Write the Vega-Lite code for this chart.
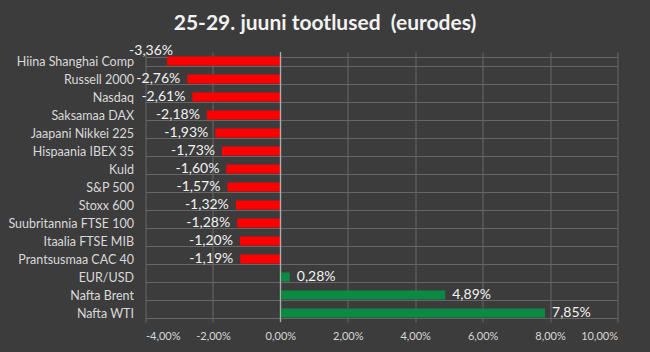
{
  "$schema": "https://vega.github.io/schema/vega-lite/v6.json",
  "width": 472,
  "height": 270,
  "autosize": {"type": "none"},
  "padding": {"left": 145.5, "top": 52, "right": 32.5, "bottom": 30},
  "background": "#3c3c3c",
  "title": {
    "text": "25-29. juuni tootlused \u00a0(eurodes)",
    "font": "Lato",
    "fontSize": 21,
    "fontWeight": "bold",
    "color": "#f2f2f2",
    "anchor": "middle",
    "frame": "group",
    "dx": -56.5,
    "baseline": "alphabetic",
    "offset": -7
  },
  "config": {
    "view": {"stroke": null},
    "locale": {
      "number": {"decimal": ",", "thousands": ".", "grouping": [3], "currency": ["", " €"], "minus": "-", "percent": "%"}
    }
  },
  "data": {
    "values": [
      {"c": "Hiina Shanghai Comp", "v": -0.0336},
      {"c": "Russell 2000", "v": -0.0276},
      {"c": "Nasdaq", "v": -0.0261},
      {"c": "Saksamaa DAX", "v": -0.0218},
      {"c": "Jaapani Nikkei 225", "v": -0.0193},
      {"c": "Hispaania IBEX 35", "v": -0.0173},
      {"c": "Kuld", "v": -0.016},
      {"c": "S&P 500", "v": -0.0157},
      {"c": "Stoxx 600", "v": -0.0132},
      {"c": "Suubritannia FTSE 100", "v": -0.0128},
      {"c": "Itaalia FTSE MIB", "v": -0.012},
      {"c": "Prantsusmaa CAC 40", "v": -0.0119},
      {"c": "EUR/USD", "v": 0.0028},
      {"c": "Nafta Brent", "v": 0.0489},
      {"c": "Nafta WTI", "v": 0.0785}
    ]
  },
  "layer": [
    {
      "mark": {"type": "bar"},
      "encoding": {
        "x": {
          "field": "v", "type": "quantitative",
          "scale": {"domain": [-0.04, 0.1], "nice": false, "zero": false},
          "axis": {
            "title": null, "format": ".2%",
            "values": [-0.04, -0.02, 0, 0.02, 0.04, 0.06, 0.08, 0.1],
            "grid": true, "gridColor": "#666666", "gridWidth": 1,
            "domain": false, "ticks": false,
            "labelColor": "#d9d9d9", "labelFont": "Lato", "labelFontSize": 11,
            "labelPadding": 8
          }
        },
        "y": {
          "field": "c", "type": "nominal", "sort": null,
          "scale": {"paddingInner": 0.5, "paddingOuter": 0.25},
          "axis": {
            "title": null, "domain": false, "ticks": false,
            "grid": true, "tickBand": "extent", "gridColor": "#666666", "gridWidth": 1,
            "labelColor": "#d9d9d9", "labelFont": "Lato", "labelFontSize": 12.5,
            "labelPadding": 12, "labelLimit": 200
          }
        },
        "color": {
          "condition": {"test": "datum.v < 0", "value": "#ff0000"},
          "value": "#0a8a42"
        }
      }
    },
    {
      "data": {"values": [{}]},
      "mark": {"type": "rule", "color": "#bfbfbf", "strokeWidth": 1},
      "encoding": {"x": {"datum": 0, "type": "quantitative"}}
    },
    {
      "transform": [{"filter": "datum.v < 0 && datum.c != 'Hiina Shanghai Comp'"}],
      "mark": {"type": "text", "align": "right", "dx": -7, "font": "Lato", "fontSize": 14, "color": "#f2f2f2"},
      "encoding": {
        "x": {"field": "v", "type": "quantitative"},
        "y": {"field": "c", "type": "nominal", "sort": null},
        "text": {"field": "v", "type": "quantitative", "format": ".2%"}
      }
    },
    {
      "transform": [{"filter": "datum.v > 0"}],
      "mark": {"type": "text", "align": "left", "dx": 7, "font": "Lato", "fontSize": 14, "color": "#f2f2f2"},
      "encoding": {
        "x": {"field": "v", "type": "quantitative"},
        "y": {"field": "c", "type": "nominal", "sort": null},
        "text": {"field": "v", "type": "quantitative", "format": ".2%"}
      }
    },
    {
      "transform": [{"filter": "datum.c == 'Hiina Shanghai Comp'"}],
      "mark": {"type": "text", "align": "center", "dx": -16, "dy": -10, "font": "Lato", "fontSize": 14, "color": "#f2f2f2"},
      "encoding": {
        "x": {"field": "v", "type": "quantitative"},
        "y": {"field": "c", "type": "nominal", "sort": null},
        "text": {"field": "v", "type": "quantitative", "format": ".2%"}
      }
    }
  ]
}
